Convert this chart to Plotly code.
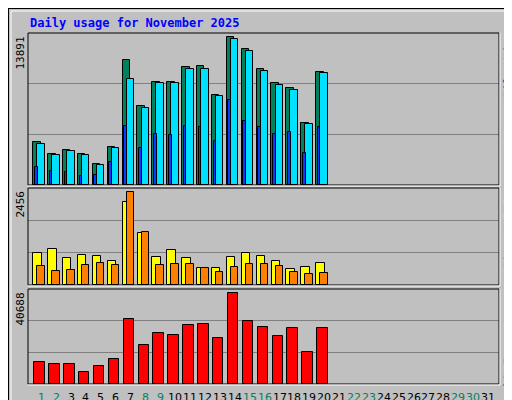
import plotly.graph_objects as go

days = list(range(1, 21))
hits = [4086, 2954, 3331, 2954, 2011, 3614, 11723, 7386, 9648, 9648, 11063, 11157, 8423, 13891, 12760, 10874, 9554, 9083, 5877, 10591]
files = [3897, 2860, 3237, 2860, 1917, 3520, 9931, 7197, 9554, 9554, 10874, 10874, 8328, 13703, 12571, 10686, 9366, 8894, 5783, 10497]
pages = [1729, 1351, 1257, 880, 974, 2200, 5594, 3520, 4840, 4746, 5594, 5500, 4180, 7951, 6066, 5500, 4840, 5028, 3049, 5500]
visits = [860, 966, 727, 807, 780, 647, 2190, 1365, 754, 940, 727, 461, 461, 754, 860, 780, 647, 434, 488, 594]
sites = [514, 381, 408, 541, 594, 541, 2456, 1392, 541, 567, 567, 461, 355, 488, 567, 567, 514, 355, 301, 328]
kbytes = [9949, 9058, 9058, 5494, 8167, 11286, 29105, 17522, 22868, 21977, 26432, 26878, 20641, 40688, 28214, 25541, 21532, 25096, 14404, 25096]
all_days = list(range(1, 32))
weekend = {1, 2, 8, 9, 15, 16, 22, 23, 29, 30}

W, H = 512, 400
def py(p):
    return 1 - p / H
def px(p):
    return p / W

fig = go.Figure()
def bar(vals, off, width, color, yax):
    fig.add_trace(go.Bar(x=[d + off for d in days], y=vals, width=width, marker_color=color,
                         marker_line_color="black", marker_line_width=1, yaxis=yax, xaxis="x",
                         showlegend=False, hoverinfo="y"))

bar(hits, -0.29, 0.5, "#00805C", "y")
bar(files, -0.02, 0.5, "#00E0FF", "y")
bar(pages, -0.34, 0.18, "#0040FF", "y")
bar(visits, -0.255, 0.56, "#FFFF00", "y2")
bar(sites, -0.02, 0.5, "#FF8000", "y2")
bar(kbytes, -0.12, 0.7, "#FF0000", "y3")

R1, R2, R3 = 14296, 2570, 42469

def yax(dom, R):
    return dict(domain=dom, range=[0, R], anchor="x", tickvals=[R / 3, 2 * R / 3], showticklabels=False,
                showgrid=True, gridcolor="#808080", gridwidth=1, zeroline=False, ticks="", fixedrange=True)

fig.update_layout(
    width=W, height=H, margin=dict(l=0, r=0, t=0, b=0),
    paper_bgcolor="#C0C0C0", plot_bgcolor="#C0C0C0", barmode="overlay", bargap=0,
    font=dict(family="DejaVu Sans Mono", size=11, color="black"),
    xaxis=dict(domain=[px(20), px(491)], range=[0.107, 31.74], anchor="y3", tickvals=[],
               showticklabels=False, showgrid=False, zeroline=False, ticks=""),
    yaxis=yax([py(177), py(25)], R1),
    yaxis2=yax([py(277), py(180)], R2),
    yaxis3=yax([py(376), py(281)], R3),
)

shapes = [dict(type="rect", xref="paper", yref="paper", x0=0, x1=1, y0=0, y1=1,
               line=dict(color="black", width=2)),
          dict(type="rect", xref="paper", yref="paper", x0=px(3), x1=px(509), y0=py(397), y1=py(3),
               line=dict(color="white", width=1))]
for top, bot in [(25, 177), (180, 277), (281, 376)]:
    shapes.append(dict(type="rect", xref="paper", yref="paper", x0=px(20), x1=px(491), y0=py(bot), y1=py(top),
                       line=dict(color="black", width=1)))
    shapes.append(dict(type="line", xref="paper", yref="paper", x0=px(20), x1=px(492), y0=py(bot + 1), y1=py(bot + 1),
                       line=dict(color="white", width=1)))
    shapes.append(dict(type="line", xref="paper", yref="paper", x0=px(492), x1=px(492), y0=py(bot + 1), y1=py(top),
                       line=dict(color="white", width=1)))
fig.update_layout(shapes=shapes)

ann = [
    dict(text="<b>Daily usage for November 2025</b>", x=px(20), y=py(15), xanchor="left", yanchor="middle",
         font=dict(color="#0000FF", size=12, family="DejaVu Sans Mono")),
    dict(text="13891", x=px(12), y=py(27), xanchor="center", yanchor="top", textangle=-90),
    dict(text="2456", x=px(12), y=py(181), xanchor="center", yanchor="top", textangle=-90),
    dict(text="40688", x=px(12), y=py(283), xanchor="center", yanchor="top", textangle=-90),
]
side = [("Hits", 38, "#00805C"), ("/", 53, "#000000"), ("Files", 72, "#0040FF"), ("/", 94, "#000000"),
        ("Pages", 120, "#00E0FF"), ("Visits", 198, "#FFFF00"), ("/", 224, "#000000"),
        ("Sites", 243, "#FF8000"), ("kB F", 365, "#FF0000")]
for t, y, c in side:
    ann.append(dict(text=t, x=px(501), y=py(y), xanchor="center", yanchor="middle", textangle=-90,
                    font=dict(color=c, size=12, family="DejaVu Sans Mono")))
for d in all_days:
    xpos = 33.3 + 14.89 * (d - 1)
    ann.append(dict(text=str(d), x=px(xpos), y=py(389), xanchor="center", yanchor="middle",
                    font=dict(family="DejaVu Sans", size=11, color="#00805C" if d in weekend else "#000000")))
for a in ann:
    a.setdefault("xref", "paper"); a.setdefault("yref", "paper"); a.setdefault("showarrow", False)
fig.update_layout(annotations=ann)

fig.write_html("out.html")
